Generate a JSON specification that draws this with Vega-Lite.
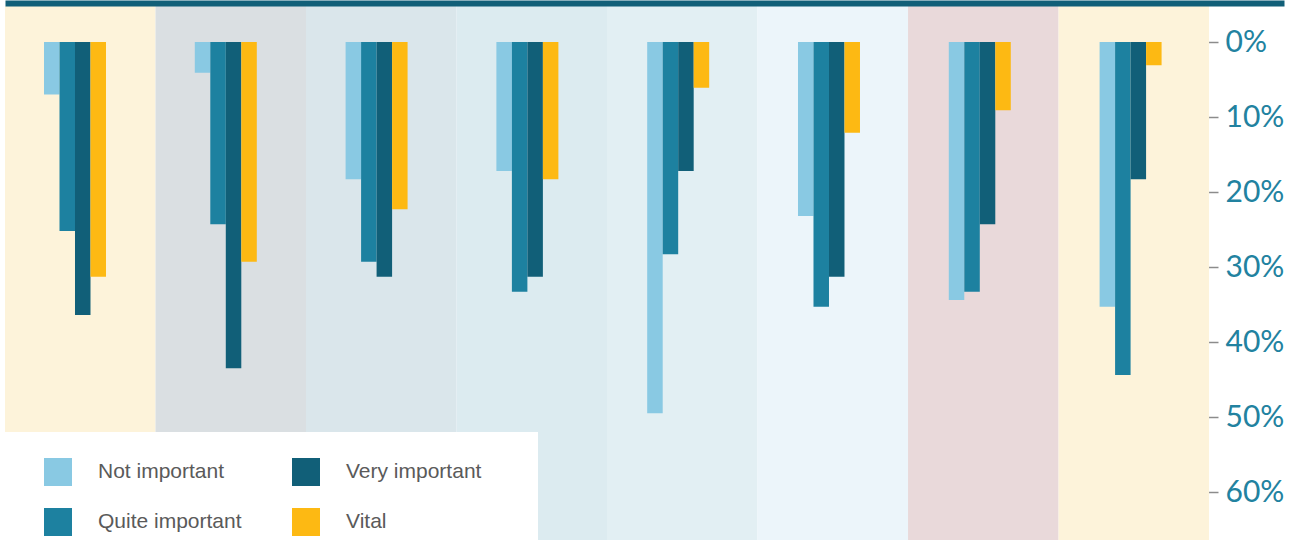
{
  "$schema": "https://vega.github.io/schema/vega-lite/v6.json",
  "autosize": {"type": "none"},
  "padding": {"left": 5, "top": 6, "right": 18, "bottom": 0},
  "width": 1279,
  "height": 534,
  "background": "white",
  "config": {"view": {"stroke": null}},
  "datasets": {
    "groups": [
      {"group": "G1"}, {"group": "G2"}, {"group": "G3"}, {"group": "G4"},
      {"group": "G5"}, {"group": "G6"}, {"group": "G7"}, {"group": "G8"}
    ],
    "bars": [
      {"group": "G1", "importance": "Not important", "pct": 7.0},
      {"group": "G1", "importance": "Quite important", "pct": 25.2},
      {"group": "G1", "importance": "Very important", "pct": 36.4},
      {"group": "G1", "importance": "Vital", "pct": 31.3},
      {"group": "G2", "importance": "Not important", "pct": 4.1},
      {"group": "G2", "importance": "Quite important", "pct": 24.3},
      {"group": "G2", "importance": "Very important", "pct": 43.5},
      {"group": "G2", "importance": "Vital", "pct": 29.3},
      {"group": "G3", "importance": "Not important", "pct": 18.3},
      {"group": "G3", "importance": "Quite important", "pct": 29.3},
      {"group": "G3", "importance": "Very important", "pct": 31.3},
      {"group": "G3", "importance": "Vital", "pct": 22.3},
      {"group": "G4", "importance": "Not important", "pct": 17.2},
      {"group": "G4", "importance": "Quite important", "pct": 33.3},
      {"group": "G4", "importance": "Very important", "pct": 31.3},
      {"group": "G4", "importance": "Vital", "pct": 18.3},
      {"group": "G5", "importance": "Not important", "pct": 49.5},
      {"group": "G5", "importance": "Quite important", "pct": 28.3},
      {"group": "G5", "importance": "Very important", "pct": 17.2},
      {"group": "G5", "importance": "Vital", "pct": 6.1},
      {"group": "G6", "importance": "Not important", "pct": 23.2},
      {"group": "G6", "importance": "Quite important", "pct": 35.3},
      {"group": "G6", "importance": "Very important", "pct": 31.3},
      {"group": "G6", "importance": "Vital", "pct": 12.1},
      {"group": "G7", "importance": "Not important", "pct": 34.4},
      {"group": "G7", "importance": "Quite important", "pct": 33.3},
      {"group": "G7", "importance": "Very important", "pct": 24.3},
      {"group": "G7", "importance": "Vital", "pct": 9.1},
      {"group": "G8", "importance": "Not important", "pct": 35.3},
      {"group": "G8", "importance": "Quite important", "pct": 44.4},
      {"group": "G8", "importance": "Very important", "pct": 18.3},
      {"group": "G8", "importance": "Vital", "pct": 3.1}
    ]
  },
  "layer": [
    {
      "data": {"name": "groups"},
      "mark": {"type": "rect"},
      "encoding": {
        "x": {
          "field": "group",
          "type": "nominal",
          "sort": null,
          "scale": {"paddingInner": 0, "paddingOuter": 0.249, "align": 0, "round": false},
          "axis": {
            "orient": "top",
            "title": null,
            "labels": false,
            "ticks": false,
            "domain": true,
            "domainColor": "#115f78",
            "domainWidth": 6,
            "domainCap": "butt",
            "offset": 3
          }
        },
        "fill": {
          "field": "group",
          "type": "nominal",
          "legend": null,
          "scale": {
            "domain": ["G1", "G2", "G3", "G4", "G5", "G6", "G7", "G8"],
            "range": ["#fdf3da", "#dadfe2", "#dae6eb", "#dcebf0", "#e2eff3", "#ecf5fa", "#e9d9da", "#fdf3da"]
          }
        }
      }
    },
    {
      "data": {"name": "bars"},
      "mark": {"type": "bar"},
      "encoding": {
        "x": {
          "field": "group",
          "type": "nominal",
          "sort": null,
          "axis": null,
          "scale": {"paddingInner": 0.5889, "paddingOuter": 0.5352, "align": 0.2416, "round": false}
        },
        "xOffset": {
          "field": "importance",
          "type": "nominal",
          "scale": {
            "domain": ["Not important", "Quite important", "Very important", "Vital"],
            "paddingInner": 0,
            "paddingOuter": 0
          }
        },
        "y": {
          "field": "pct",
          "type": "quantitative",
          "stack": null,
          "scale": {"domain": [-4.8, 66.4], "reverse": true, "nice": false, "zero": false},
          "axis": {
            "orient": "right",
            "offset": -88,
            "title": null,
            "domain": false,
            "grid": false,
            "values": [0, 10, 20, 30, 40, 50, 60],
            "labelExpr": "datum.value + '%'",
            "tickSize": 22,
            "tickWidth": 1.5,
            "tickColor": "#8c8c8c",
            "labelPadding": 7,
            "labelFont": "Lato",
            "labelFontWeight": "normal",
            "labelFontSize": 30,
            "labelColor": "#2282a0"
          }
        },
        "y2": {"datum": 0},
        "color": {
          "field": "importance",
          "type": "nominal",
          "scale": {
            "domain": ["Not important", "Very important", "Quite important", "Vital"],
            "range": ["#89c9e3", "#115f78", "#1d81a0", "#fdb913"]
          },
          "legend": {
            "orient": "none",
            "legendX": 0,
            "legendY": 426,
            "columns": 2,
            "direction": "horizontal",
            "title": " ",
            "titleOrient": "left",
            "titleFontSize": 1,
            "titlePadding": 13,
            "fillColor": "white",
            "padding": 26,
            "symbolType": "square",
            "symbolSize": 784,
            "symbolStrokeWidth": 0,
            "symbolOpacity": 1,
            "labelOffset": 26,
            "labelFont": "Liberation Sans",
            "labelFontSize": 21,
            "labelColor": "#5a5a5a",
            "labelLimit": 400,
            "labelExpr": "datum.label == 'Very important' ? datum.label + '\u2800\u2800' : datum.label",
            "columnPadding": 50,
            "rowPadding": 22
          }
        }
      }
    }
  ],
  "resolve": {"scale": {"x": "independent"}}
}
